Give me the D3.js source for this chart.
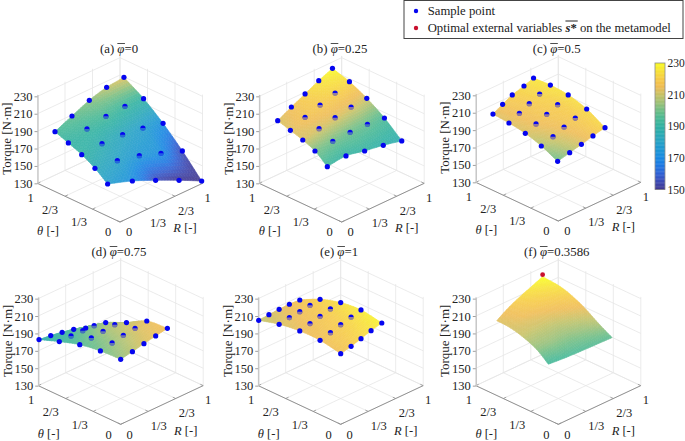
<!DOCTYPE html>
<html><head><meta charset="utf-8">
<style>html,body{margin:0;padding:0;background:#fff}svg{display:block}text{font-family:"Liberation Serif",serif;fill:#222}</style>
<script src="https://cdn.jsdelivr.net/npm/d3@7"></script></head><body><svg id="c" width="685" height="441"></svg>
<script>
const zTicks=[130,150,170,190,210,230];
const gridTicks=[0,1/3,2/3,1];
const gridLabels=["0","1/3","2/3","1"];
const cbTicks=[150,170,190,210,230];
const cbStops=[150,155,160,165,170,175,180,185,190,195,200,205,210,215,220,225,230];
const cbColors=["#352a87","#3140b0","#2358d2","#1270e0","#0a82e0","#0f90d2","#1a9cc2","#1fa5ae","#25ad9c","#3fb48e","#66b97e","#98bd6e","#c4be5c","#eeb84a","#f6c83a","#f7e02a","#f9fb15"];

const rA=[[-.075,.2,.466,.733,.995],[-.027,.234,.492,.749,1.003],[.018,.266,.516,.764,1.011],[.062,.3,.54,.78,1.018],[.106,.334,.564,.794,1.024]];
const thA=[[.075,.05,.034,.017,.005],[.277,.266,.258,.252,.247],[.482,.484,.484,.486,.489],[.688,.7,.71,.72,.732],[.894,.916,.936,.956,.976]];
const zA=[[173.7,166,155.7,144.6,132.7],[180.6,178.3,172.9,164.5,156.1],[185.2,186.7,185.9,182.5,176.7],[187.5,192.5,195.9,196.3,194],[189.4,196.3,203.2,207,207.4]];
const cA=[[178,172,155,150,150],[184,180,175,172,154],[190,186,182,178,172],[190,192,194,192,190],[194,198,203,209,213]];

const rB=[[-.087,.151,.389,.627,.864],[-.037,.196,.426,.656,.884],[.014,.238,.46,.682,.902],[.064,.278,.494,.71,.922],[.112,.32,.528,.736,.944]];
const thB=[[.087,.099,.111,.123,.136],[.287,.304,.324,.344,.366],[.486,.512,.54,.568,.598],[.686,.722,.756,.79,.828],[.888,.93,.972,1.014,1.056]];
const zB=[[193.6,194.8,189.4,184.8,178.7],[200.5,200.5,199.7,197.8,194],[202,203.9,205.5,206.6,205.5],[202,205.9,208.9,211.6,213.5],[202,206.6,210.5,214.7,217.7]];
const cB=[[192,190,190,188,186],[201,200,199,198,195],[212,212,213,213,211],[213,217,219,221,223],[212,216,221,226,230]];

const rC=[[-.004,.194,.39,.585,.783],[.022,.218,.41,.603,.797],[.05,.24,.43,.621,.81],[.076,.264,.449,.637,.827],[.104,.288,.471,.667,.85]];
const thC=[[.004,.056,.11,.165,.217],[.228,.282,.34,.397,.453],[.45,.51,.57,.629,.69],[.674,.736,.801,.863,.923],[.896,.963,1.029,1.083,1.15]];
const zC=[[198.6,197.4,195.9,194.4,192.8],[205.1,204.7,204.7,203.9,203.2],[208.5,208.2,208.2,208.2,208.2],[209.3,209.3,209.3,209.3,208.5],[208.5,208.5,208.2,207.4,205.5]];
const cC=[[199,206,212,217,222],[207,212,216,219,223],[212,215,218,220,224],[213,216,219,222,225],[213,217,220,223,226]];

const rD=[[0,.196,.391,.587,.783],[.002,.198,.391,.587,.783],[.002,.197,.393,.589,.785],[.003,.199,.395,.589,.784],[.005,.201,.395,.59,.788]];
const thD=[[0,.054,.109,.163,.217],[.248,.302,.359,.413,.467],[.498,.553,.607,.661,.715],[.747,.801,.855,.911,.966],[.995,1.049,1.105,1.16,1.212]];
const zD=[[204.7,202.4,200.5,198.2,195.9],[203.2,201.3,199,195.9,193.2],[199.3,195.9,192.5,189,180.2],[191.7,187.1,182.1,176.7,169.1],[182.9,176.4,169.1,161.4,151.8]];
const cD=[[204,208,212,214,216],[200,204,208,212,214],[196,200,205,208,208],[191,194,198,202,204],[187,189,192,196,200]];

const rE=[[0,.188,.373,.559,.749],[0,.188,.375,.563,.748],[.002,.189,.375,.563,.75],[.002,.189,.377,.564,.75],[.003,.19,.377,.564,.752]];
const thE=[[0,.062,.127,.191,.251],[.25,.312,.375,.437,.502],[.498,.561,.625,.688,.75],[.748,.811,.873,.936,1],[.997,1.06,1.123,1.186,1.248]];
const zE=[[211.2,208.5,206.2,204.3,202],[215.4,213.1,211.2,208.9,205.9],[215.1,212.4,209.7,207,203.2],[211.6,208.2,203.9,200.1,195.9],[205.1,200.5,195.5,190.2,184]];
const cE=[[216,219,222,225,228],[216,218,220,223,227],[214,216,218,221,224],[212,214,216,218,221],[209,211,213,215,217]];

const rF=[[-.06,.16,.381,.603,.826],[-.007,.204,.412,.646,.868],[.028,.236,.454,.674,.892],[.076,.276,.484,.694,.902],[.127,.32,.514,.71,.905]];
const thF=[[.06,.09,.119,.147,.174],[.257,.296,.338,.354,.382],[.472,.514,.546,.576,.608],[.674,.724,.766,.806,.848],[.873,.93,.986,1.04,1.095]];
const zF=[[199,194.8,191.3,188.2,185.2],[205.1,202.4,199.3,195.5,190.5],[209.3,209.7,207.4,204.3,200.5],[208.5,209.3,209.7,209.7,208.5],[204.7,207.8,209.3,210.1,210.8]];
const cF=[[193,194,195,196,197],[203,204,204,205,207],[210,211,212,214,216],[212,215,218,221,224],[213,217,222,226,231]];
const optimum={R:.905,theta:1.095,torque:213.1};

const panels=[
 {label:"(a) ",phi:"=0",bx:120,by:222,tx:119,ty:53,R:rA,T:thA,Z:zA,C:cA,pts:true},
 {label:"(b) ",phi:"=0.25",bx:341.7,by:222,tx:340,ty:53,R:rB,T:thB,Z:zB,C:cB,pts:true},
 {label:"(c) ",phi:"=0.5",bx:558.3,by:221,tx:556.7,ty:53,R:rC,T:thC,Z:zC,C:cC,pts:true},
 {label:"(d) ",phi:"=0.75",bx:120.7,by:424.3,tx:119,ty:256,R:rD,T:thD,Z:zD,C:cD,pts:true},
 {label:"(e) ",phi:"=1",bx:340.7,by:424.3,tx:339,ty:256,R:rE,T:thE,Z:zE,C:cE,pts:true},
 {label:"(f) ",phi:"=0.3586",bx:558.3,by:424.3,tx:556.7,ty:256,R:rF,T:thF,Z:zF,C:cF,pts:false,opt:optimum}
];

const svg=d3.select("#c");
const col=d3.scaleLinear().domain(cbStops).range(cbColors).clamp(true);
const surfColor=v=>d3.interpolateRgb(col(v),"#ffffff")(0.14);
const sX=d3.scaleLinear().domain([0,1]).range([0,82.5]);
const sD=d3.scaleLinear().domain([0,1]).range([0,38.67]);
const sZ=d3.scaleLinear().domain([130,230]).range([0,87]);
const zTop=232;
const GRID="#e6e6e6",AXIS="#929292";

// smooth mesh evaluation between the read grid nodes
const cr=(a,b,c,d,t)=>0.5*((2*b)+(c-a)*t+(2*a-5*b+4*c-d)*t*t+(3*b-a-3*c+d)*t*t*t);
const node=(M,j,i)=>{
  const ex=(jj,ii)=>{
    if(ii<0) return 2*ex(jj,0)-ex(jj,1);
    if(ii>4) return 2*ex(jj,4)-ex(jj,3);
    if(jj<0) return 2*M[0][ii]-M[1][ii];
    if(jj>4) return 2*M[4][ii]-M[3][ii];
    return M[jj][ii];
  };
  return ex(j,i);
};
const smooth=(M,i,j,a,b)=>{
  const row=k=>cr(node(M,k,i-1),node(M,k,i),node(M,k,i+1),node(M,k,i+2),a);
  return cr(row(j-1),row(j),row(j+1),row(j+2),b);
};
const bil=(M,i,j,a,b)=>(1-a)*(1-b)*M[j][i]+a*(1-b)*M[j][i+1]+(1-a)*b*M[j+1][i]+a*b*M[j+1][i+1];

panels.forEach(p=>{
  const g=svg.append("g");
  const X=(r,t)=>p.bx+sX(r)-sX(t);
  const Y=(r,t,z)=>p.by-sD(r)-sD(t)-sZ(z);
  const line=(a,b,col,w)=>g.append("line").attr("x1",X(a[0],a[1])).attr("y1",Y(a[0],a[1],a[2])).attr("x2",X(b[0],b[1])).attr("y2",Y(b[0],b[1],b[2])).attr("stroke",col).attr("stroke-width",w||0.8);
  gridTicks.forEach(t=>{
    line([t,0,130],[t,1,130],GRID);
    line([0,t,130],[1,t,130],GRID);
    line([t,1,130],[t,1,zTop],GRID);
    line([1,t,130],[1,t,zTop],GRID);
  });
  zTicks.forEach(z=>{
    line([0,1,z],[1,1,z],GRID);
    line([1,1,z],[1,0,z],GRID);
  });
  line([0,1,130],[0,0,130],AXIS,1);
  line([0,0,130],[1,0,130],AXIS,1);
  gridTicks.forEach(t=>{
    line([t,0,130],[t,0.035,130],AXIS,0.8);
    line([0,t,130],[0.035,t,130],AXIS,0.8);
  });
  const yAxis=d3.scaleLinear().domain([130,zTop]).range([Y(0,1,130),Y(0,1,zTop)]);
  const ax=g.append("g").attr("transform",`translate(${X(0,1)},0)`)
    .call(d3.axisLeft(yAxis).tickValues(zTicks).tickSize(3).tickSizeOuter(0).tickPadding(2));
  ax.select(".domain").attr("stroke","#c8c8c8").attr("stroke-width",1.4);
  ax.selectAll(".tick line").attr("stroke","#a0a0a0");
  ax.selectAll("text").attr("font-size",12.5).attr("font-family",'"Liberation Serif",serif').attr("fill","#222");
  const thOff=[[-12,10],[-13.5,13],[-15,13],[-7,14]];
  const rOff=[[9,10],[10.5,14],[11,14],[5,14]];
  gridTicks.forEach((t,i)=>{
    g.append("text").attr("x",X(0,t)+thOff[i][0]).attr("y",Y(0,t,130)+thOff[i][1]).attr("dy",".35em").attr("text-anchor","middle").attr("font-size",12.5).text(gridLabels[i]);
    g.append("text").attr("x",X(t,0)+rOff[i][0]).attr("y",Y(t,0,130)+rOff[i][1]).attr("dy",".35em").attr("text-anchor","middle").attr("font-size",12.5).text(gridLabels[i]);
  });
  const tl=g.append("text").attr("x",p.bx-72).attr("y",p.by+9).attr("dy",".35em").attr("text-anchor","middle").attr("font-size",12.5);
  tl.append("tspan").attr("font-style","italic").text("θ");tl.append("tspan").text(" [-]");
  const rl=g.append("text").attr("x",p.bx+65).attr("y",p.by+6).attr("dy",".35em").attr("text-anchor","middle").attr("font-size",12.5);
  rl.append("tspan").attr("font-style","italic").text("R");rl.append("tspan").text(" [-]");
  g.append("text").attr("transform",`translate(${p.bx-113.5},${p.by-83.5}) rotate(-90)`).attr("dy",".35em").attr("text-anchor","middle").attr("font-size",13).text("Torque [N·m]");
  const tt=g.append("text").attr("x",p.tx).attr("y",p.ty).attr("text-anchor","middle").attr("font-size",12.8);
  tt.append("tspan").text(p.label);
  tt.append("tspan").attr("font-style","italic").text("φ");
  tt.append("tspan").text(p.phi);
  const s0=tt.node().getStartPositionOfChar(p.label.length),e0=tt.node().getEndPositionOfChar(p.label.length);
  g.append("line").attr("x1",s0.x).attr("x2",e0.x+.5).attr("y1",p.ty-9.5).attr("y2",p.ty-9.5).attr("stroke","#222").attr("stroke-width",.8);
  // surface
  const N=8,surf=g.append("g");
  const cells=[];
  for(let j=3;j>=0;j--)for(let i=3;i>=0;i--)for(let v=N-1;v>=0;v--)for(let u=N-1;u>=0;u--)cells.push([i,j,u,v]);
  const pathOf=(i,j,u,v)=>{
    const cs=[[u/N,v/N],[(u+1)/N,v/N],[(u+1)/N,(v+1)/N],[u/N,(v+1)/N]];
    return cs.map(([a,b])=>{const r=smooth(p.R,i,j,a,b),t=smooth(p.T,i,j,a,b),z=smooth(p.Z,i,j,a,b);return [X(r,t),Y(r,t,z)];});
  };
  surf.selectAll("path").data(cells).join("path")
    .attr("d",d=>"M"+pathOf(...d).join("L")+"Z")
    .attr("fill",d=>surfColor(bil(p.C,d[0],d[1],(d[2]+.5)/N,(d[3]+.5)/N)))
    .attr("stroke",d=>surfColor(bil(p.C,d[0],d[1],(d[2]+.5)/N,(d[3]+.5)/N)))
    .attr("stroke-width",0.6);
  if(p.pts){
    const pts=[];
    p.R.forEach((row,j)=>row.forEach((r,i)=>pts.push({i,j,x:X(r,p.T[j][i]),y:Y(r,p.T[j][i],p.Z[j][i]),c:p.C[j][i]})));
    g.selectAll("circle.s").data(pts).join("circle").attr("class","s").attr("cx",d=>d.x).attr("cy",d=>d.y).attr("r",2.6).attr("fill","#0505f0");
    const arc=d3.arc().innerRadius(0).outerRadius(2.6).startAngle(Math.PI/2).endAngle(Math.PI*1.5);
    g.selectAll("path.half").data(pts.filter(d=>d.i>0&&d.i<4&&d.j>0&&d.j<4)).join("path").attr("class","half")
      .attr("transform",d=>`translate(${d.x},${d.y})`).attr("d",arc)
      .attr("fill",d=>surfColor(d.c)).attr("opacity",.6);
  }
  if(p.opt){
    g.append("circle").attr("cx",X(p.opt.R,p.opt.theta)).attr("cy",Y(p.opt.R,p.opt.theta,p.opt.torque)).attr("r",2.4).attr("fill","#c8102e");
  }
});

// colour bar
const cbY=d3.scaleLinear().domain([150,230]).range([189.5,63]);
const cb=svg.append("g");
cb.selectAll("rect").data(d3.range(150,230,0.5)).join("rect")
  .attr("x",655).attr("width",10).attr("y",d=>cbY(d+.5)).attr("height",d=>cbY(d)-cbY(d+.5)+.4).attr("fill",d=>d3.interpolateRgb(col(d),"#fff")(.05));
cb.append("rect").attr("x",655).attr("y",63).attr("width",10).attr("height",126.5).attr("fill","none").attr("stroke","#8c8c8c").attr("stroke-width",.8);
const cbAx=cb.append("g").attr("transform","translate(665,0)").call(d3.axisRight(cbY).tickValues(cbTicks).tickSize(0).tickPadding(2.5));
cbAx.select(".domain").remove();
cbAx.selectAll("text").attr("font-size",11.5).attr("font-family",'"Liberation Serif",serif').attr("fill","#222");

// legend
const lg=svg.append("g");
lg.append("rect").attr("x",404).attr("y",0.5).attr("width",279).attr("height",38).attr("fill","#fff").attr("stroke","#444").attr("stroke-width",1);
lg.append("circle").attr("cx",416).attr("cy",11).attr("r",2.2).attr("fill","#0505f0");
lg.append("circle").attr("cx",416).attr("cy",28).attr("r",2.2).attr("fill","#c8102e");
lg.append("text").attr("x",427.7).attr("y",15).attr("font-size",12.7).text("Sample point");
const l2=lg.append("text").attr("x",427.7).attr("y",32).attr("font-size",12.7);
l2.append("tspan").text("Optimal external variables ");
l2.append("tspan").attr("font-weight","bold").attr("font-style","italic").text("s");
l2.append("tspan").attr("font-weight","bold").text("*");
l2.append("tspan").text(" on the metamodel");
const n0="Optimal external variables ".length;
const sa=l2.node().getStartPositionOfChar(n0),se=l2.node().getEndPositionOfChar(n0+1);
lg.append("line").attr("x1",sa.x).attr("x2",se.x+1).attr("y1",21).attr("y2",21).attr("stroke","#222").attr("stroke-width",1);
</script></body></html>
